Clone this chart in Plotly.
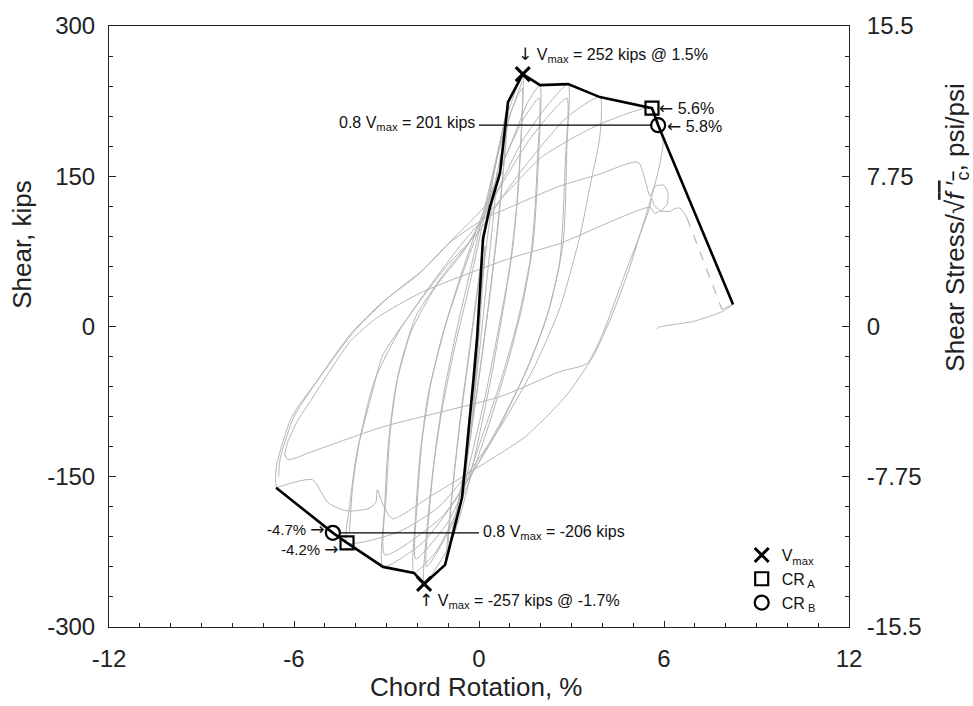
import plotly.graph_objects as go

# ---------------- data ----------------
# backbone / envelope (black)
env_rot = [-6.58, -4.74, -4.28, -3.11, -2.11, -1.78, -1.10, -0.55, -0.19, -0.06,
           0.13, 0.36, 0.68, 0.94, 1.42, 1.98, 2.89, 3.92, 5.61, 5.81, 8.24]
env_shear = [-161, -206, -216, -240, -246, -257, -238, -171, -57, -11,
             88, 120, 153, 224, 252, 241, 242, 229, 218, 201, 22]

# key points
vmax_rot = [1.42, -1.78]
vmax_shear = [252, -257]
cra_rot = [5.61, -4.28]
cra_shear = [218, -216]
crb_rot = [5.81, -4.74]
crb_shear = [201, -206]

# hysteresis cycles (grey)
loop_a_rot = [0.2, 0.1, 0.0, -0.1, -0.2, -0.1, 0.0, 0.1, 0.2]
loop_a_shear = [80, 45, 5, -45, -85, -50, -10, 35, 80]
loop_b_rot = [0.6, 0.45, 0.25, 0.05, -0.2, -0.5, -0.38, -0.2, 0.0, 0.3, 0.6]
loop_b_shear = [155, 105, 45, -15, -85, -165, -110, -50, 15, 95, 155]
loop_c_rot = [0.95, 0.82, 0.6, 0.35, 0.05, -0.35, -1.08, -0.9, -0.65, -0.35, -0.05, 0.35, 0.95]
loop_c_shear = [222, 165, 95, 30, -40, -125, -236, -175, -105, -35, 35, 130, 222]
loop_c2_rot = [0.9, 0.78, 0.55, 0.3, 0.0, -0.4, -1.0, -0.85, -0.6, -0.3, 0.0, 0.4, 0.9]
loop_c2_shear = [210, 155, 85, 20, -50, -130, -222, -160, -90, -20, 50, 140, 210]
loop_d_rot = [1.42, 1.38, 1.28, 1.1, 0.8, 0.4, 0.0, -0.4, -0.9, -1.78, -1.68, -1.48, -1.18,
              -0.78, -0.32, 0.1, 0.5, 0.9, 1.42]
loop_d_shear = [252, 200, 140, 80, 20, -50, -110, -165, -215, -257, -200, -140, -80,
                -20, 40, 100, 160, 210, 252]
loop_d2_rot = [1.4, 1.35, 1.22, 1.0, 0.65, 0.2, -0.25, -0.75, -1.7, -1.6, -1.4, -1.1, -0.7,
               -0.25, 0.15, 0.6, 1.0, 1.4]
loop_d2_shear = [238, 180, 120, 60, 0, -70, -130, -190, -240, -180, -120, -60, 0,
                 60, 115, 170, 212, 238]
loop_e_rot = [1.98, 1.95, 1.85, 1.75, 1.4, 0.9, 0.3, -0.2, -0.8, -1.4, -2.11, -2.06, -1.92,
              -1.66, -1.2, -0.6, -0.1, 0.6, 1.2, 1.6, 1.98]
loop_e_shear = [241, 180, 120, 81, 20, -40, -100, -145, -190, -225, -246, -190, -130,
                -70, -10, 50, 95, 150, 195, 225, 241]
loop_e2_rot = [1.95, 1.9, 1.8, 1.65, 1.25, 0.7, 0.1, -0.4, -1.0, -2.05, -2.0, -1.85, -1.55,
               -1.05, -0.45, 0.15, 0.8, 1.4, 1.95]
loop_e2_shear = [228, 170, 110, 65, 5, -55, -110, -155, -195, -232, -175, -115, -55,
                 5, 60, 110, 165, 205, 228]
loop_f_rot = [2.89, 2.85, 2.8, 2.72, 2.3, 1.6, 0.8, 0.0, -0.8, -1.8, -3.11, -3.06, -2.95,
              -2.7, -2.2, -1.4, -0.5, 0.5, 1.4, 2.2, 2.89]
loop_f_shear = [242, 180, 120, 81, 20, -40, -90, -135, -175, -215, -240, -180, -120,
                -60, -5, 40, 75, 130, 185, 220, 242]
loop_f2_rot = [2.85, 2.8, 2.72, 2.6, 2.1, 1.3, 0.5, -0.3, -1.2, -3.05, -3.0, -2.88, -2.6,
               -2.05, -1.2, -0.3, 0.7, 1.6, 2.3, 2.85]
loop_f2_shear = [228, 165, 105, 60, 0, -60, -110, -150, -190, -228, -165, -105, -45,
                 10, 50, 85, 140, 185, 212, 228]
loop_g_rot = [3.92, 3.92, 3.6, 3.28, 2.63, 1.8, 0.8, -0.2, -1.3, -2.6, -4.28, -4.2, -3.96,
              -3.5, -3.11, -2.0, -1.0, 0.0, 1.0, 1.75, 2.85, 3.92]
loop_g_shear = [229, 190, 140, 91, 19, -40, -95, -140, -180, -205, -216, -180, -126,
                -70, -28, 22, 62, 95, 140, 170, 209, 229]
loop_h_rot = [-4.2, -4.1, -3.85, -3.4, -2.6, -1.6, -0.6, 0.5, 2.07, 3.92, 5.61,
              5.9, 5.97, 5.85, 5.6, 5.3, 4.9, 4.3, 3.7, 2.8, 1.5, 0.0, -1.5, -2.8,
              -3.1, -3.3, -3.35, -3.6, -4.3, -4.9, -5.4, -6.58]
loop_h_shear = [-205, -160, -110, -55, -5, 40, 81, 120, 170, 202, 218,
                195, 183, 160, 130, 100, 60, 10, -30, -70, -110, -140, -168, -192,
                -179, -163, -176, -182, -184, -176, -153, -161]
arc_1_rot = [-6.58, -6.6, -6.55, -6.13, -5.87, -5.25, -4.18, -3.11, -2.0, -0.94, 0.2, 1.23,
             2.6, 3.9, 5.16, 5.55, 5.7, 6.0, 6.13, 6.1, 5.9, 5.7, 5.6, 5.55, 5.2, 4.8,
             4.0, 3.5, 2.63, 0.68, -3.1, -5.25, -6.2, -6.3]
arc_1_shear = [-161, -149, -136, -94, -80, -54, -8, 25, 51, 84, 108, 122,
               140, 152, 164, 130, 140, 141, 133, 122, 116, 120, 128, 120, 90, 58,
               -8, -37, -45, -70, -100, -123, -133, -128]
arc_1b_rot = [-6.5, -6.45, -6.0, -5.1, -4.0, -2.9, -1.8, -0.7, 0.36, 0.7, 1.0, 1.4]
arc_1b_shear = [-150, -132, -90, -48, -3, 30, 57, 92, 127, 170, 210, 245]
arc_2_rot = [-6.3, -6.2, -5.9, -5.48, -4.18, -3.3, -1.8, 1.0, 2.63, 5.55, 5.7, 5.87,
             6.2, 6.36, 6.52, 6.68, 6.75]
arc_2_shear = [-128, -115, -95, -75, -15, 9, 35, 68, 83, 119, 113, 115,
               115, 118, 118, 112, 108]
dash_rot = [6.75, 7.88]
dash_shear = [108, 17]
tail_rot = [7.88, 8.24, 7.9, 6.94, 5.8, 5.78]
tail_shear = [17, 22, 15, 5, -1, -3]

grey_curves = [
    (loop_a_rot, loop_a_shear), (loop_b_rot, loop_b_shear),
    (loop_c_rot, loop_c_shear), (loop_c2_rot, loop_c2_shear),
    (loop_d_rot, loop_d_shear), (loop_d2_rot, loop_d2_shear),
    (loop_e_rot, loop_e_shear), (loop_e2_rot, loop_e2_shear),
    (loop_f_rot, loop_f_shear), (loop_f2_rot, loop_f2_shear),
    (loop_g_rot, loop_g_shear), (loop_h_rot, loop_h_shear),
    (arc_1_rot, arc_1_shear), (arc_1b_rot, arc_1b_shear),
    (arc_2_rot, arc_2_shear), (tail_rot, tail_shear),
]

x_ticks = [-12, -6, 0, 6, 12]
x_labels = ["-12", "-6", "0", "6", "12"]
y_ticks = [-300, -150, 0, 150, 300]
y_labels = ["-300", "-150", "0", "150", "300"]
y2_ticks = [-15.5, -7.75, 0, 7.75, 15.5]
y2_labels = ["-15.5", "-7.75", "0", "7.75", "15.5"]

# ---------------- figure ----------------
FONT = "Arial, Liberation Sans, sans-serif"
GREY = "#b5b5b5"
fig = go.Figure()

for rx, vy in grey_curves:
    fig.add_trace(go.Scatter(x=rx, y=vy, mode="lines",
                             line=dict(color=GREY, width=1, shape="spline", smoothing=0.6),
                             showlegend=False, hoverinfo="skip"))
fig.add_trace(go.Scatter(x=dash_rot, y=dash_shear, mode="lines",
                         line=dict(color=GREY, width=1.2, dash="dash"),
                         showlegend=False, hoverinfo="skip"))

fig.add_trace(go.Scatter(x=env_rot, y=env_shear, mode="lines",
                         line=dict(color="black", width=2.6),
                         showlegend=False, hoverinfo="skip"))

fig.add_trace(go.Scatter(x=vmax_rot, y=vmax_shear, mode="markers", name="V<sub>max</sub>",
                         marker=dict(symbol="x-thin", size=14, color="black",
                                     line=dict(color="black", width=3))))
fig.add_trace(go.Scatter(x=cra_rot, y=cra_shear, mode="markers", name="CR<sub> A</sub>",
                         marker=dict(symbol="square-open", size=13, color="black",
                                     line=dict(color="black", width=2.2))))
fig.add_trace(go.Scatter(x=crb_rot, y=crb_shear, mode="markers", name="CR<sub> B</sub>",
                         marker=dict(symbol="circle-open", size=14, color="black",
                                     line=dict(color="black", width=2.2))))

# dummy trace to activate right axis
fig.add_trace(go.Scatter(x=[0], y=[0], yaxis="y2", mode="markers",
                         marker=dict(opacity=0), showlegend=False, hoverinfo="skip"))

# 0.8 Vmax lines
for xr, vv in zip(crb_rot, crb_shear):
    x_end = xr - 0.22 if xr > 0 else xr + 0.22
    fig.add_shape(type="line", x0=0, x1=x_end, y0=vv, y1=vv, xref="x", yref="y",
                  line=dict(color="black", width=1.2))


def arrow(ch):
    return "<span style='font-family:DejaVu Sans;font-size:17px'>" + ch + "</span>"


ann_font = dict(family=FONT, size=16, color="#111")
small_font = dict(family=FONT, size=15, color="#111")
anns = [
    dict(x=vmax_rot[0], y=vmax_shear[0], text=arrow("↓") + " V<sub>max</sub> = 252 kips @ 1.5%",
         xanchor="left", yanchor="middle", xshift=-7, yshift=20, font=ann_font),
    dict(x=vmax_rot[1], y=vmax_shear[1], text=arrow("↑") + " V<sub>max</sub> = -257 kips @ -1.7%",
         xanchor="left", yanchor="middle", xshift=-7, yshift=-17, font=ann_font),
    dict(x=0, y=crb_shear[0], text="0.8 V<sub>max</sub> = 201 kips",
         xanchor="right", yanchor="middle", xshift=-2, yshift=2, font=ann_font),
    dict(x=0, y=crb_shear[1], text="0.8 V<sub>max</sub> = -206 kips",
         xanchor="left", yanchor="middle", xshift=2, yshift=0, font=ann_font),
    dict(x=cra_rot[0], y=cra_shear[0], text=arrow("←") + " 5.6%",
         xanchor="left", yanchor="middle", xshift=5, yshift=0, font=ann_font),
    dict(x=crb_rot[0], y=crb_shear[0], text=arrow("←") + " 5.8%",
         xanchor="left", yanchor="middle", xshift=7, yshift=-1, font=ann_font),
    dict(x=crb_rot[1], y=crb_shear[1], text="-4.7% " + arrow("→"),
         xanchor="right", yanchor="middle", xshift=-6, yshift=4, font=small_font),
    dict(x=cra_rot[1], y=cra_shear[1], text="-4.2% " + arrow("→"),
         xanchor="right", yanchor="middle", xshift=-6, yshift=-6, font=small_font),
]
for a in anns:
    fig.add_annotation(showarrow=False, xref="x", yref="y", **a)

title_font = dict(family=FONT, size=26, color="#222")
fig.add_annotation(x=0.496, y=-0.10, xref="paper", yref="paper", text="Chord Rotation, %",
                   showarrow=False, font=title_font, xanchor="center", yanchor="middle")
fig.add_annotation(x=-0.118, y=0.637, xref="paper", yref="paper", text="Shear, kips",
                   showarrow=False, font=title_font, textangle=-90,
                   xanchor="center", yanchor="middle")
fig.add_annotation(x=1.145, y=0.665, xref="paper", yref="paper",
                   text="Shear Stress/√<span style='text-decoration:overline'><i>f</i> ′<sub>c</sub></span>, psi/psi",
                   showarrow=False, font=title_font, textangle=-90,
                   xanchor="center", yanchor="middle")

tick_font = dict(family=FONT, size=24, color="#222")
fig.update_layout(
    width=973, height=706,
    margin=dict(l=109, r=124, t=18, b=79),
    paper_bgcolor="white", plot_bgcolor="white",
    font=dict(family=FONT, color="#222"),
    xaxis=dict(range=[-12, 12], tickmode="array", tickvals=x_ticks, ticktext=x_labels,
               ticks="inside", ticklen=6, tickcolor="#222", tickfont=tick_font,
               showline=True, linecolor="#222", linewidth=1, mirror=True,
               showgrid=False, zeroline=False, ticklabelstandoff=10,
               minor=dict(dtick=1, tick0=0, ticks="inside", ticklen=4, tickcolor="#222")),
    yaxis=dict(range=[-300, 300], tickmode="array", tickvals=y_ticks, ticktext=y_labels,
               ticks="inside", ticklen=7, tickcolor="#222", tickfont=tick_font,
               showline=True, linecolor="#222", linewidth=1, mirror=False,
               showgrid=False, zeroline=False, ticklabelstandoff=8,
               minor=dict(dtick=30, tick0=0, ticks="inside", ticklen=4, tickcolor="#222")),
    yaxis2=dict(range=[-15.5, 15.5], overlaying="y", side="right", tickmode="array",
                tickvals=y2_ticks, ticktext=y2_labels,
                ticks="inside", ticklen=7, tickcolor="#222", tickfont=tick_font,
                showline=True, linecolor="#222", linewidth=1,
                showgrid=False, zeroline=False, ticklabelstandoff=12,
                minor=dict(dtick=1.55, tick0=0, ticks="inside", ticklen=4, tickcolor="#222")),
    legend=dict(x=0.855, y=0.148, xanchor="left", yanchor="top",
                bgcolor="rgba(0,0,0,0)", font=dict(family=FONT, size=16, color="#111"),
                tracegroupgap=0, itemwidth=30),
    showlegend=True,
)

fig.write_html("out.html", config={"displayModeBar": False},
               post_script="document.body.style.margin='0px';document.body.style.overflow='hidden';")
